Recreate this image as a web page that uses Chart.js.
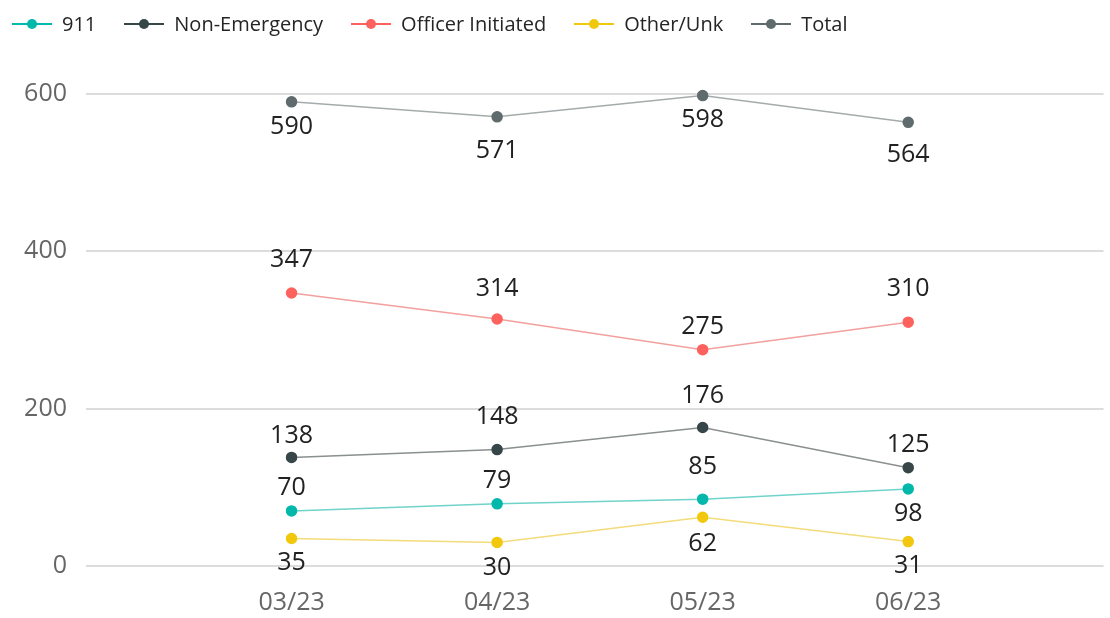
<!doctype html>
<html>
<head>
<meta charset="utf-8" />
<title>Calls by Source</title>
<style>
  body { margin:0; background:#fff; font-family:"Open Sans", "Noto Sans", sans-serif; }
  .wrap { position:relative; width:1110px; height:618px; }
  #chart { position:absolute; left:0; top:0; }
  .legend { position:absolute; left:12px; top:10px; display:flex; gap:28px; align-items:center; font-size:20px; color:#252525; }
  .item { display:flex; align-items:center; gap:10px; }
  .mk { position:relative; width:40px; height:2px; }
  .mk i { position:absolute; left:15px; top:-4px; width:10px; height:10px; border-radius:50%; }
</style>
</head>
<body>
<div class="wrap">
  <canvas id="chart" width="1110" height="618"></canvas>
  <div class="legend" id="legend"></div>
</div>
<script src="https://cdn.jsdelivr.net/npm/chart.js@4.4.1/dist/chart.umd.min.js"></script>
<script>
const months = ['03/23', '04/23', '05/23', '06/23'];
const yTicks = [0, 200, 400, 600];

const calls911 = [70, 79, 85, 98];
const nonEmergency = [138, 148, 176, 125];
const officerInitiated = [347, 314, 275, 310];
const otherUnk = [35, 30, 62, 31];
const total = [590, 571, 598, 564];

// label offset in px from the point (negative = above), styling only
const series = [
  { label:'911', data:calls911, color:'#01B8AA', line:'#6fd3cb', off:[-23, -23, -32, 25] },
  { label:'Non-Emergency', data:nonEmergency, color:'#374649', line:'#8a8f90', off:[-22, -33, -32, -23] },
  { label:'Officer Initiated', data:officerInitiated, color:'#FD625E', line:'#f2a09e', off:[-33, -30, -23, -33] },
  { label:'Other/Unk', data:otherUnk, color:'#F2C80F', line:'#f3dc7a', off:[24, 25, 27, 24] },
  { label:'Total', data:total, color:'#5F6B6D', line:'#a5abac', off:[25, 34, 24, 33] }
];

// html legend: line + dot
const legendEl = document.getElementById('legend');
for (const s of series) {
  const it = document.createElement('div');
  it.className = 'item';
  it.innerHTML = '<span class="mk" style="background:' + s.color + '"><i style="background:' + s.color + '"></i></span><span>' + s.label + '</span>';
  legendEl.appendChild(it);
}

const valueLabels = {
  id: 'valueLabels',
  afterDatasetsDraw(chart) {
    const ctx = chart.ctx;
    ctx.save();
    ctx.font = '25px "Open Sans", "Noto Sans", sans-serif';
    ctx.fillStyle = '#222';
    ctx.textAlign = 'center';
    ctx.textBaseline = 'middle';
    chart.data.datasets.forEach((ds, i) => {
      const meta = chart.getDatasetMeta(i);
      meta.data.forEach((pt, j) => {
        ctx.fillText(String(ds.data[j].y), pt.x, pt.y + ds.labelOff[j]);
      });
    });
    ctx.restore();
  }
};

const font = { size: 25, family: '"Open Sans", "Noto Sans", sans-serif' };

new Chart(document.getElementById('chart').getContext('2d'), {
  type: 'line',
  data: {
    datasets: series.map(s => ({
      label: s.label,
      data: s.data.map((v, i) => ({ x: i, y: v })),
      borderColor: s.line,
      backgroundColor: s.color,
      pointBackgroundColor: s.color,
      pointBorderColor: s.color,
      pointRadius: 5,
      borderWidth: 1.5,
      clip: false,
      labelOff: s.off
    }))
  },
  options: {
    responsive: false,
    animation: false,
    layout: { padding: { top: 94, right: 0, left: 0, bottom: 0 } },
    plugins: { legend: { display: false }, tooltip: { enabled: false } },
    scales: {
      x: {
        type: 'linear', min: -1, max: 3.95,
        afterBuildTicks: axis => { axis.ticks = months.map((m, i) => ({ value: i })); },
        afterFit: axis => { axis.height = 52; },
        ticks: { callback: v => months[v] || '', color: '#666', padding: 22, font },
        grid: { display: false, drawTicks: false },
        border: { display: false }
      },
      y: {
        min: 0, max: 600,
        afterBuildTicks: axis => { axis.ticks = yTicks.map(v => ({ value: v })); },
        afterFit: axis => { axis.width = 86; },
        ticks: { color: '#666', padding: 19, font },
        grid: { color: '#dcdcdc', lineWidth: 2, drawTicks: false },
        border: { display: false }
      }
    }
  },
  plugins: [valueLabels]
});
</script>
</body>
</html>
